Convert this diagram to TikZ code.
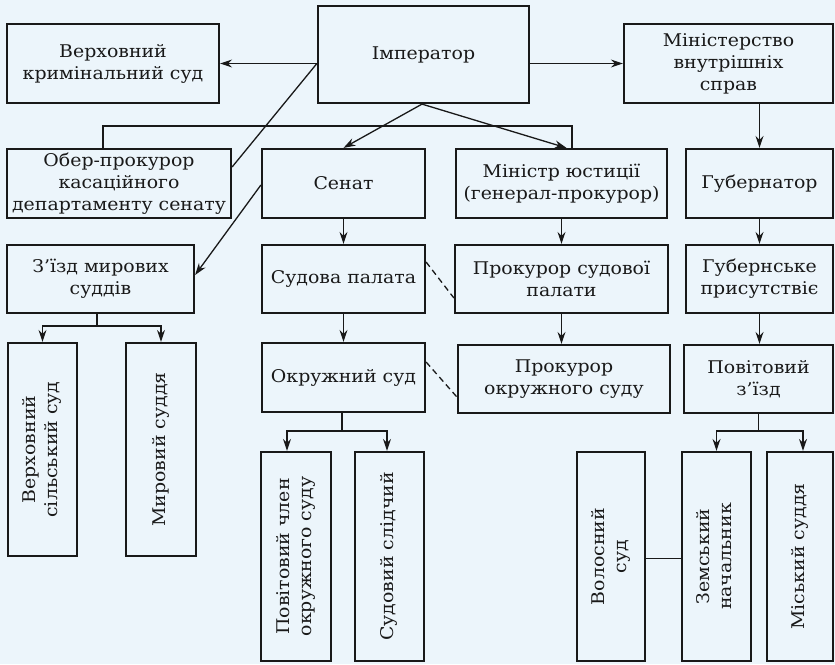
\documentclass[tikz,border=0pt]{standalone}
\usepackage{fontspec}
\setmainfont{DejaVu Serif}[FakeStretch=1.08]
\usetikzlibrary{arrows.meta}
\definecolor{bgblue}{RGB}{236,245,251}
\definecolor{ink}{RGB}{25,25,25}
\tikzset{
  box/.style={draw=ink, line width=2.2pt, fill=none, align=center, inner sep=1pt,
    font=\fontsize{17.5}{22}\selectfont, text=ink},
  arr/.style={draw=ink, line width=1.3pt, -{Stealth[length=12pt,width=8pt]}},
  ln/.style={draw=ink, line width=1.3pt},
  dsh/.style={draw=ink, line width=1.3pt, dash pattern=on 6pt off 4pt},
}
\newcommand{\vtext}[1]{\rotatebox{90}{\begin{tabular}{@{}c@{}}#1\end{tabular}}}
\begin{document}
\begin{tikzpicture}[x=1pt,y=-1pt]
\fill[bgblue] (0,0) rectangle (835,664);
\useasboundingbox (0,0) rectangle (835,664);
% row 1
\node[box, minimum width=212, minimum height=79] (vks) at (113,63.5) {Верховний\\кримінальний суд};
\node[box, minimum width=211, minimum height=97] (imp) at (423.5,54.5) {Імператор};
\node[box, minimum width=209, minimum height=79] (mvs) at (728.5,63.5) {Міністерство\\внутрішніх\\справ};
% row 2
\node[box, minimum width=224, minimum height=69] (ober) at (119,183.5) {Обер-прокурор\\касаційного\\департаменту сенату};
\node[box, minimum width=163, minimum height=69] (senat) at (343.5,183.5) {Сенат};
\node[box, minimum width=211, minimum height=69] (minjust) at (561.5,183.5) {Міністр юстиції\\(генерал-прокурор)};
\node[box, minimum width=147, minimum height=69] (gub) at (759.5,183.5) {Губернатор};
% row 3
\node[box, minimum width=187, minimum height=68] (zizd) at (100.5,279) {З'їзд мирових\\суддів};
\node[box, minimum width=163, minimum height=68] (sudpal) at (343.5,279) {Судова палата};
\node[box, minimum width=213, minimum height=68] (prsp) at (561.5,279) {Прокурор судової\\палати};
\node[box, minimum width=147, minimum height=68] (gubpr) at (759.5,279) {Губернське\\присутствіє};
% row 4
\node[box, minimum width=163, minimum height=69] (okr) at (343.5,377.5) {Окружний суд};
\node[box, minimum width=212, minimum height=68] (prok) at (564,379) {Прокурор\\окружного суду};
\node[box, minimum width=149, minimum height=68] (povz) at (758.5,379) {Повітовий\\з'їзд};
% tall boxes
\node[box, minimum width=69, minimum height=213] (vss) at (42.5,449.5) {\vtext{Верховний\\сільський суд}};
\node[box, minimum width=70, minimum height=213] (mir) at (161,449.5) {\vtext{Мировий суддя}};
\node[box, minimum width=70, minimum height=209] (povch) at (296,556.5) {\vtext{Повітовий член\\окружного суду}};
\node[box, minimum width=69, minimum height=209] (sl) at (389.5,556.5) {\vtext{Судовий слідчий}};
\node[box, minimum width=68, minimum height=209] (vol) at (611,556.5) {\vtext{Волосний\\суд}};
\node[box, minimum width=69, minimum height=209] (zem) at (716.5,556.5) {\vtext{Земський\\начальник}};
\node[box, minimum width=66, minimum height=209] (mis) at (800,556.5) {\vtext{Міський суддя}};
% connectors
\draw[arr] (imp.west |- vks.east) -- (vks.east);
\draw[arr] (imp.east |- mvs.west) -- (mvs.west);
\draw[ln] (imp.west |- vks.east) -- ([yshift=16.5pt]ober.east);
\draw[ln] ([xshift=-16pt]ober.north) -- ++(0,-22) -| ([xshift=10.5pt]minjust.north);
\draw[arr] ([xshift=-1.5pt]imp.south) -- (senat.north);
\draw[arr] ([xshift=-1.5pt]imp.south) -- ([xshift=5pt]minjust.north);
\draw[arr] (gub.north |- mvs.south) -- (gub.north);
\draw[arr] ([yshift=-1.5pt]senat.west) -- ([yshift=4pt]zizd.east);
\draw[arr] (senat.south) -- (sudpal.north);
\draw[arr] (sudpal.south) -- (okr.north);
\draw[arr] (minjust.south) -- (prsp.north);
\draw[arr] (prsp.south) -- (prsp.south |- prok.north);
\draw[arr] (gub.south) -- (gubpr.north);
\draw[arr] (gubpr.south) -- (gubpr.south |- povz.north);
\draw[dsh] ([yshift=17pt]sudpal.east) -- ([yshift=-19pt]prsp.west);
\draw[dsh] ([yshift=15.5pt]okr.east) -- ([yshift=-18pt]prok.west);
% branches
\draw[ln] ([xshift=-3.5pt]zizd.south) -- ++(0,12) coordinate (zb);
\draw[arr] (zb) -| (vss.north);
\draw[arr] (zb) -| (mir.north);
\draw[ln] ([xshift=-1.5pt]okr.south) -- ++(0,18) coordinate (ob);
\draw[arr] (ob) -| ([xshift=-9pt]povch.north);
\draw[arr] (ob) -| ([xshift=-2.5pt]sl.north);
\draw[ln] (povz.south) -- ++(0,17) coordinate (pb);
\draw[arr] (pb) -| (zem.north);
\draw[arr] (pb) -| ([xshift=3pt]mis.north);
\draw[ln, line width=1pt] ([yshift=-1.5pt]vol.east) -- ([yshift=-1.5pt]vol.east -| zem.west);
\end{tikzpicture}
\end{document}
